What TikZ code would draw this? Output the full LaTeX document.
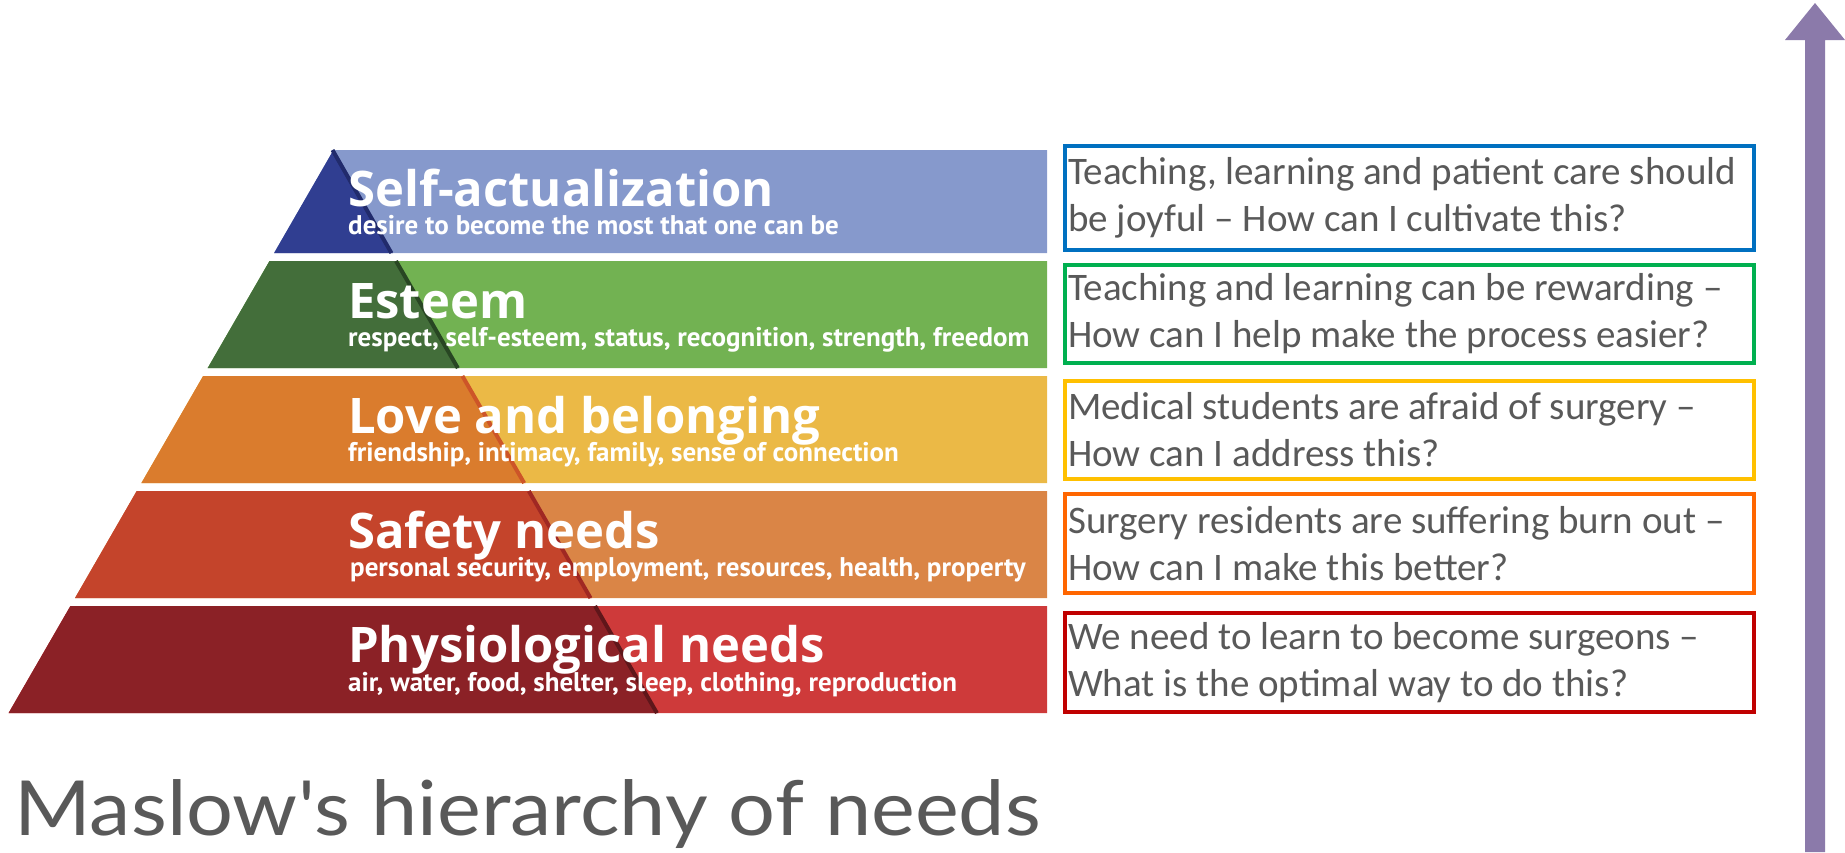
\documentclass[tikz,border=0pt]{standalone}
\usepackage{fontspec}
\usepackage{tikz}
\newfontfamily\headfont{Open Sans}
\newfontfamily\subfont{PT Sans}
\newfontfamily\boxfont{Carlito}
\newfontfamily\mainfont{Lato}[FakeStretch=1.09]

\definecolor{sadark}{RGB}{48,62,145}
\definecolor{salight}{RGB}{134,153,204}
\definecolor{saedge}{RGB}{33,43,108}
\definecolor{esdark}{RGB}{67,110,58}
\definecolor{eslight}{RGB}{114,178,82}
\definecolor{esedge}{RGB}{40,70,35}
\definecolor{lvdark}{RGB}{218,124,45}
\definecolor{lvlight}{RGB}{235,185,70}
\definecolor{lvedge}{RGB}{205,85,40}
\definecolor{sfdark}{RGB}{196,68,43}
\definecolor{sflight}{RGB}{218,133,70}
\definecolor{sfedge}{RGB}{160,40,35}
\definecolor{phdark}{RGB}{139,33,38}
\definecolor{phlight}{RGB}{206,58,58}
\definecolor{phedge}{RGB}{95,22,26}
\definecolor{textgray}{RGB}{89,89,89}
\definecolor{arrowpurple}{RGB}{139,122,170}
\definecolor{qblue}{RGB}{0,112,192}
\definecolor{qgreen}{RGB}{0,176,80}
\definecolor{qyellow}{RGB}{255,192,0}
\definecolor{qorange}{RGB}{255,102,0}
\definecolor{qred}{RGB}{192,0,0}

\begin{document}
\begin{tikzpicture}[x=1pt,y=1pt,yscale=-1,xscale=1,
	bandtitle/.style={anchor=base west,inner sep=0pt,text depth=0pt,text=white,font=\headfont\bfseries\fontsize{49}{49}\selectfont},
	bandsub/.style={anchor=base west,inner sep=0pt,text height=17pt,text=white,font=\subfont\bfseries\fontsize{27}{27}\selectfont},
	qframe/.style={draw,line width=4,anchor=west,minimum width=689,inner sep=0pt},
	qtext/.style={anchor=west,inner sep=0pt,align=left,text=textgray,font=\boxfont\fontsize{39}{47}\selectfont}]
	\useasboundingbox (0,0) rectangle (1845,852);
	
	%Shape: Band [id:self-actualization] 
	\fill [salight] (333.5,150) -- (1047,150) -- (1047,253) -- (274.1,253) -- cycle ;
	\fill [sadark] (333.5,150) -- (392.9,253) -- (274.1,253) -- cycle ;
	\draw [saedge,line width=4] (332.5,150) -- (391.4,253) ;
	%Shape: Band [id:esteem] 
	\fill [eslight] (269.5,261) -- (1047,261) -- (1047,368) -- (207.7,368) -- cycle ;
	\fill [esdark] (269.5,261) -- (397.5,261) -- (459.3,368) -- (207.7,368) -- cycle ;
	\draw [esedge,line width=4] (396,261) -- (457.8,368) ;
	%Shape: Band [id:love] 
	\fill [lvlight] (203.1,376) -- (1047,376) -- (1047,483) -- (141.4,483) -- cycle ;
	\fill [lvdark] (203.1,376) -- (463.9,376) -- (525.6,483) -- (141.4,483) -- cycle ;
	\draw [lvedge,line width=4] (462.4,376) -- (524.1,483) ;
	%Shape: Band [id:safety] 
	\fill [sflight] (136.7,491) -- (1047,491) -- (1047,598) -- (75,598) -- cycle ;
	\fill [sfdark] (136.7,491) -- (530.3,491) -- (592,598) -- (75,598) -- cycle ;
	\draw [sfedge,line width=4] (528.8,491) -- (590.5,598) ;
	%Shape: Band [id:physiological] 
	\fill [phlight] (70.4,606) -- (1047,606) -- (1047,713) -- (8.6,713) -- cycle ;
	\fill [phdark] (70.4,606) -- (596.6,606) -- (658.4,713) -- (8.6,713) -- cycle ;
	\draw [phedge,line width=4] (595.1,606) -- (656.9,713) ;
	
	% Text Node
	\node [bandtitle] (satitle) at (348,206) {Self-actualization};
	\node [bandsub] (sasub) at (348,234) {desire to become the most that one can be};
	% Text Node
	\node [bandtitle] (estitle) at (348,318) {Esteem};
	\node [bandsub] (essub) at (348,346) {respect, self-esteem, status, recognition, strength, freedom};
	% Text Node
	\node [bandtitle] (lvtitle) at (348,433) {Love and belonging};
	\node [bandsub] (lvsub) at (348,461) {friendship, intimacy, family, sense of connection};
	% Text Node
	\node [bandtitle] (sftitle) at (348,548) {Safety needs};
	\node [bandsub] (sfsub) at (350,576) {personal security, employment, resources, health, property};
	% Text Node
	\node [bandtitle] (phtitle) at (348,662) {Physiological needs};
	\node [bandsub] (phsub) at (348,691) {air, water, food, shelter, sleep, clothing, reproduction};
	
	%Shape: Rectangle [id:question boxes] 
	\node [qframe,draw=qblue,minimum height=104] (q5) at (1063,198) {};
	\node [qframe,draw=qgreen,minimum height=98] (q4) at (1063,314) {};
	\node [qframe,draw=qyellow,minimum height=98] (q3) at (1063,430) {};
	\node [qframe,draw=qorange,minimum height=99] (q2) at (1063,543.5) {};
	\node [qframe,draw=qred,minimum height=99] (q1) at (1063,662.5) {};
	% Text Node
	\node [qtext] (t5) at ([xshift=5]q5.west) {Teaching, learning and patient care should\\be joyful – How can I cultivate this?};
	\node [qtext] (t4) at ([xshift=5]q4.west) {Teaching and learning can be rewarding –\\How can I help make the process easier?};
	\node [qtext] (t3) at ([xshift=5]q3.west) {Medical students are afraid of surgery –\\How can I address this?};
	\node [qtext] (t2) at ([xshift=5]q2.west) {Surgery residents are suffering burn out –\\How can I make this better?};
	\node [qtext] (t1) at ([xshift=5]q1.west) {We need to learn to become surgeons –\\What is the optimal way to do this?};
	
	%Shape: Up Arrow [id:growth] 
	\fill [arrowpurple] (1805,852) -- (1805,40) -- (1785,40) -- (1815,3) -- (1845,40) -- (1825,40) -- (1825,852) -- cycle ;
	
	% Text Node
	\node [anchor=base west,inner sep=0pt,text=textgray,font=\mainfont\fontsize{76}{76}\selectfont] (title) at (14,835) {Maslow's hierarchy of needs};
	
\end{tikzpicture}
\end{document}
